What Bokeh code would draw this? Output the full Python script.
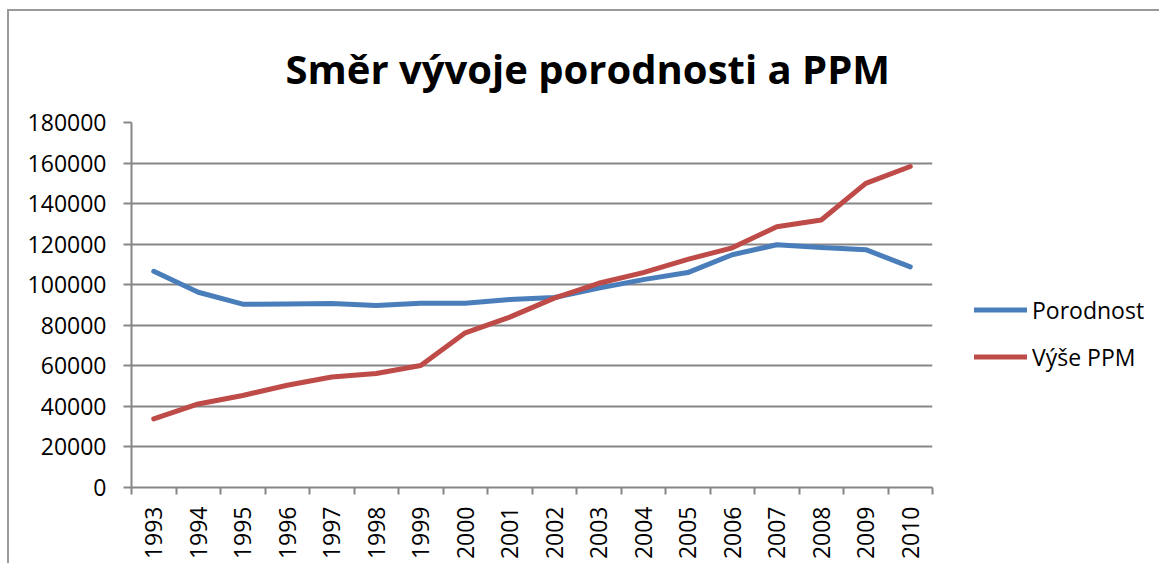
import math
from bokeh.plotting import figure
from bokeh.models import (ColumnDataSource, FixedTicker, NumeralTickFormatter,
                          Range1d, Legend, LegendItem)
from bokeh.embed import file_html
from bokeh.resources import INLINE

years = ["1993", "1994", "1995", "1996", "1997", "1998", "1999", "2000", "2001",
         "2002", "2003", "2004", "2005", "2006", "2007", "2008", "2009", "2010"]
porodnost = [106600, 96300, 90400, 90500, 90700, 89700, 90900, 90900, 92700,
             93700, 98300, 102500, 106000, 114800, 119700, 118400, 117300, 108800]
vyse_ppm = [33800, 41200, 45400, 50400, 54500, 56200, 60200, 76300, 84000,
            93400, 100700, 106000, 112500, 118200, 128600, 131900, 150000, 158300]
y_ticks = [0, 20000, 40000, 60000, 80000, 100000, 120000, 140000, 160000, 180000]

FONT = "Open Sans"
GRID = "#868686"

pos = [i + 0.5 for i in range(len(years))]
src = ColumnDataSource(dict(x=pos, p=porodnost, v=vyse_ppm))

p = figure(width=1143, height=556, output_backend="svg", toolbar_location=None,
           x_range=Range1d(0, len(years)), y_range=Range1d(0, 180000),
           frame_width=801, frame_height=365,
           min_border_left=122, min_border_right=218,
           min_border_top=111, min_border_bottom=76,
           title="Směr vývoje porodnosti a PPM")
p.outline_line_color = None
p.background_fill_color = "white"
p.border_fill_color = "white"
p.styles = {"margin-left": "7px", "margin-top": "9px",
            "border-left": "2px solid #9a9a9a", "border-top": "2px solid #9a9a9a"}

p.title.text_font = FONT
p.title.text_font_size = "40px"
p.title.text_font_style = "bold"
p.title.text_color = "black"
p.title.align = "left"
p.title.offset = 154
p.title.standoff = 54

# x axis: labels at category centres, ticks at category boundaries
p.xaxis.ticker = FixedTicker(ticks=pos, minor_ticks=list(range(len(years) + 1)))
p.xaxis.major_label_overrides = {x: y for x, y in zip(pos, years)}
p.xaxis.major_label_orientation = math.pi / 2
p.xaxis.major_tick_out = 0
p.xaxis.major_tick_in = 0
p.xaxis.minor_tick_out = 7
p.xaxis.minor_tick_in = 0
p.xaxis.major_label_standoff = 12
p.xaxis.axis_line_color = GRID
p.xaxis.axis_line_width = 2
p.xaxis.minor_tick_line_color = GRID
p.xaxis.minor_tick_line_width = 2
p.xaxis.major_label_text_font = FONT
p.xaxis.major_label_text_font_size = "23px"
p.xaxis.major_label_text_color = "black"

p.yaxis.ticker = FixedTicker(ticks=y_ticks)
p.yaxis.formatter = NumeralTickFormatter(format="0")
p.yaxis.major_tick_out = 8
p.yaxis.major_tick_in = 0
p.yaxis.minor_tick_line_color = None
p.yaxis.major_label_standoff = 17
p.yaxis.axis_line_color = GRID
p.yaxis.axis_line_width = 2
p.yaxis.major_tick_line_color = GRID
p.yaxis.major_tick_line_width = 2
p.yaxis.major_label_text_font = FONT
p.yaxis.major_label_text_font_size = "23px"
p.yaxis.major_label_text_color = "black"

p.xgrid.grid_line_color = None
p.ygrid.grid_line_color = GRID
p.ygrid.grid_line_width = 2

r1 = p.line("x", "p", source=src, line_color="#4A7EBB", line_width=5,
            line_cap="round", line_join="round")
r2 = p.line("x", "v", source=src, line_color="#BE4B48", line_width=5,
            line_cap="round", line_join="round")

legend = Legend(items=[LegendItem(label="Porodnost", renderers=[r1]),
                       LegendItem(label="Výše PPM", renderers=[r2])],
                location=(42, 107), orientation="vertical",
                glyph_width=53, glyph_height=47, label_height=47, spacing=0,
                label_standoff=5, padding=0, margin=0,
                border_line_color=None, background_fill_alpha=0,
                label_text_font=FONT, label_text_font_size="23px",
                label_text_color="black")
p.add_layout(legend, "right")

open("out.html", "w").write(file_html(p, INLINE))
